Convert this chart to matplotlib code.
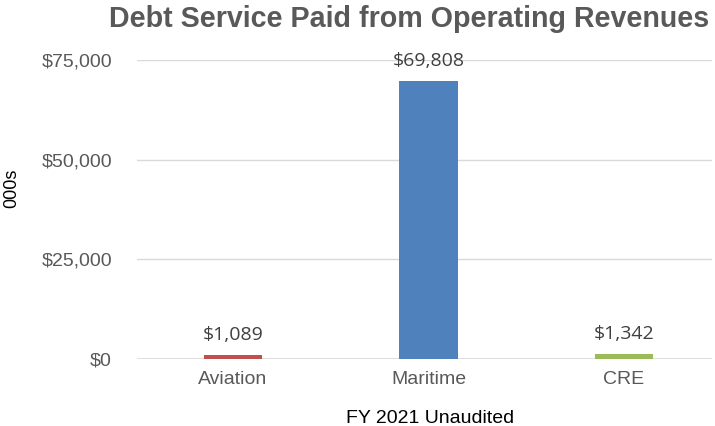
import numpy as np
import matplotlib
matplotlib.use('Agg')
import matplotlib.pyplot as plt
from matplotlib.ticker import FuncFormatter

# chart data
categories = ['Aviation', 'Maritime', 'CRE']
values = [1089, 69808, 1342]
colors = ['#C0504D', '#4F81BD', '#9BBB59']
yticks = [0, 25000, 50000, 75000]

plt.rcParams['font.family'] = ['Liberation Sans', 'DejaVu Sans']

fig = plt.figure(figsize=(7.15, 4.26), dpi=100)
ax = fig.add_axes([0.1916, 0.1573, 0.8042, 0.7019])

x = np.arange(len(categories))
ax.bar(x, values, width=0.297, color=colors, zorder=3)

# value labels above each bar
for xi, v in zip(x, values):
    ax.annotate('${:,}'.format(v), (xi, v), xytext=(0, 10.5), textcoords='offset points',
                ha='center', va='baseline', fontsize=14, color='#404040',
                family=['Open Sans', 'DejaVu Sans'])

ax.set_ylim(0, 75000)
ax.set_xlim(-0.491, 2.45)
ax.set_yticks(yticks)
ax.yaxis.set_major_formatter(FuncFormatter(lambda v, p: '${:,.0f}'.format(v)))
ax.set_xticks(x)
ax.set_xticklabels(categories)
ax.tick_params(axis='both', length=0, labelsize=14, colors='#595959')
ax.tick_params(axis='x', pad=9)
ax.tick_params(axis='y', pad=18)
ax.grid(axis='y', color='#D9D9D9', linewidth=1, zorder=0)
for s in ax.spines.values():
    s.set_visible(False)
ax.axhline(0, color='#D9D9D9', linewidth=1.2, zorder=2)

fig.text(0.572, 0.9366, 'Debt Service Paid from Operating Revenues', fontsize=20.6,
         fontweight='bold', color='#595959', ha='center', va='baseline')
fig.text(0.601, 0.007, 'FY 2021 Unaudited', fontsize=14, color='black',
         ha='center', va='baseline')
fig.text(0.017, 0.559, '000s', rotation=90, ha='center', va='center', fontsize=13)

fig.savefig('out.png', dpi=100)
